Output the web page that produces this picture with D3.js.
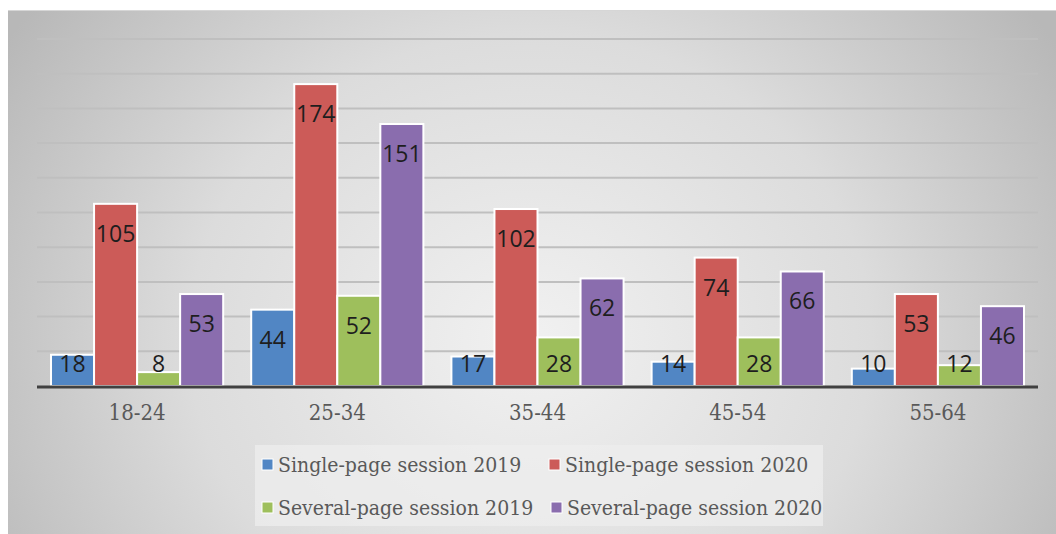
<!DOCTYPE html>
<html>
<head>
<meta charset="utf-8">
<script src="https://cdn.jsdelivr.net/npm/d3@7"></script>
<style>
html,body{margin:0;padding:0;background:#fff;}
svg{display:block;}
</style>
</head>
<body>
<svg id="chart" width="1056" height="534"></svg>
<script>
const categories = ["18-24","25-34","35-44","45-54","55-64"];
const seriesNames = ["Single-page session 2019","Single-page session 2020","Several-page session 2019","Several-page session 2020"];
const single2019 = [18,44,17,14,10];
const single2020 = [105,174,102,74,53];
const several2019 = [8,52,28,28,12];
const several2020 = [53,151,62,66,46];
const yTicks = [0,20,40,60,80,100,120,140,160,180,200];
const colors = ["#5186c4","#cc5b58","#9ebf5c","#8a6dae"];

const seriesValues = [single2019, single2020, several2019, several2020];
const svg = d3.select("#chart");
const serif = "'DejaVu Serif Condensed', 'DejaVu Serif', serif";

// background
const defs = svg.append("defs");
const rg = defs.append("radialGradient").attr("id","bg")
  .attr("gradientUnits","userSpaceOnUse")
  .attr("cx",530).attr("cy",340).attr("r",620)
  .attr("gradientTransform","translate(530,340) scale(1,0.9) translate(-530,-340)");
rg.append("stop").attr("offset","0").attr("stop-color","#f1f1f1");
rg.append("stop").attr("offset","0.55").attr("stop-color","#dcdcdc");
rg.append("stop").attr("offset","1").attr("stop-color","#b8b8b8");
svg.append("rect").attr("x",8).attr("y",10).attr("width",1048).attr("height",524).attr("fill","url(#bg)");
svg.append("line").attr("x1",8).attr("x2",1056).attr("y1",10.5).attr("y2",10.5).attr("stroke","#d6d6d6").attr("stroke-width",1);

const x0 = d3.scaleBand().domain(categories).range([37,1038]).paddingInner(0.14).paddingOuter(0.07);
const x1 = d3.scaleBand().domain(d3.range(4)).range([0,x0.bandwidth()]);
const y = d3.scaleLinear().domain([0,200]).range([386,39]);

// gridlines
svg.append("g").selectAll("line").data(yTicks.filter(d=>d>0)).join("line")
  .attr("x1",37).attr("x2",1038)
  .attr("y1",d=>y(d)).attr("y2",d=>y(d))
  .attr("stroke","#bfbfbf").attr("stroke-width",2);

// bars
const groups = svg.append("g").selectAll("g").data(categories).join("g")
  .attr("transform",c=>`translate(${x0(c)},0)`);
groups.selectAll("rect").data((c,i)=>seriesValues.map((s,k)=>({k,v:s[i]}))).join("rect")
  .attr("x",d=>x1(d.k)).attr("width",x1.bandwidth())
  .attr("y",d=>y(d.v)).attr("height",d=>y(0)-y(d.v))
  .attr("fill",d=>colors[d.k]).attr("stroke","#ffffff").attr("stroke-width",2);

// baseline axis
const xAxis = d3.axisBottom(x0).tickSize(0).tickPadding(0);
const ax = svg.append("g").attr("transform",`translate(0,${y(0)})`).call(xAxis);
ax.select(".domain").remove();
svg.append("line").attr("x1",37).attr("x2",1038).attr("y1",y(0)+1).attr("y2",y(0)+1)
  .attr("stroke","#404040").attr("stroke-width",3);
ax.selectAll(".tick text")
  .attr("dy",0).attr("y",34)
  .attr("font-family",serif).attr("font-size",22)
  .attr("fill","#595959");

// labels
groups.selectAll("text.val").data((c,i)=>seriesValues.map((s,k)=>({k,v:s[i]}))).join("text")
  .attr("class","val")
  .attr("x",d=>x1(d.k)+x1.bandwidth()/2)
  .attr("y",d=>Math.min(y(d.v)+29, 363))
  .attr("text-anchor","middle").attr("dominant-baseline","central")
  .attr("font-family","'Open Sans', sans-serif").attr("font-size",23)
  .attr("fill","#1e1e1e")
  .text(d=>d.v);

// legend
svg.append("rect").attr("x",255).attr("y",445).attr("width",568).attr("height",81)
  .attr("fill","#eeeeee").attr("opacity",0.75);
const legPos = [[262,465],[549,465],[262,508],[551,508]];
const leg = svg.append("g").selectAll("g").data(seriesNames).join("g")
  .attr("transform",(d,i)=>`translate(${legPos[i][0]},${legPos[i][1]})`);
leg.append("rect").attr("x",0).attr("y",-6).attr("width",11).attr("height",11)
  .attr("fill",(d,i)=>colors[i]).attr("stroke","#ffffff").attr("stroke-width",1);
leg.append("text").attr("x",16).attr("y",0).attr("dominant-baseline","central")
  .attr("font-family",serif).attr("font-size",21)
  .attr("fill","#595959").text(d=>d);
</script>
</body>
</html>
